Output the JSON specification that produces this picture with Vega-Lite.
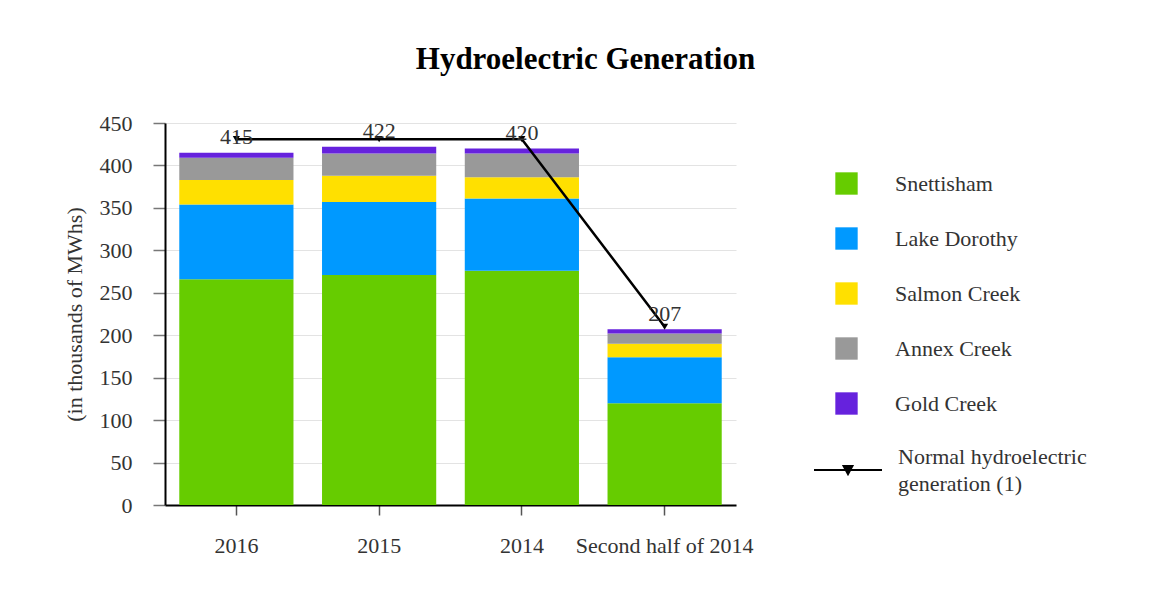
{
  "$schema": "https://vega.github.io/schema/vega-lite/v6.json",
  "width": 571,
  "height": 382,
  "autosize": {"type": "none"},
  "padding": {"left": 165, "top": 123, "right": 413, "bottom": 88},
  "background": "white",
  "title": {
    "text": "Hydroelectric Generation",
    "font": "Liberation Serif",
    "fontSize": 31,
    "fontWeight": "bold",
    "color": "black",
    "anchor": "middle",
    "frame": "group",
    "dx": 135,
    "baseline": "alphabetic",
    "offset": 12
  },
  "datasets": {
    "plants": [
      {"period": "2016", "plant": "Snettisham", "mwh": 266, "ord": 1},
      {"period": "2016", "plant": "Lake Dorothy", "mwh": 88, "ord": 2},
      {"period": "2016", "plant": "Salmon Creek", "mwh": 29, "ord": 3},
      {"period": "2016", "plant": "Annex Creek", "mwh": 26, "ord": 4},
      {"period": "2016", "plant": "Gold Creek", "mwh": 6, "ord": 5},
      {"period": "2015", "plant": "Snettisham", "mwh": 271, "ord": 1},
      {"period": "2015", "plant": "Lake Dorothy", "mwh": 86, "ord": 2},
      {"period": "2015", "plant": "Salmon Creek", "mwh": 31, "ord": 3},
      {"period": "2015", "plant": "Annex Creek", "mwh": 26, "ord": 4},
      {"period": "2015", "plant": "Gold Creek", "mwh": 8, "ord": 5},
      {"period": "2014", "plant": "Snettisham", "mwh": 276, "ord": 1},
      {"period": "2014", "plant": "Lake Dorothy", "mwh": 85, "ord": 2},
      {"period": "2014", "plant": "Salmon Creek", "mwh": 25, "ord": 3},
      {"period": "2014", "plant": "Annex Creek", "mwh": 28, "ord": 4},
      {"period": "2014", "plant": "Gold Creek", "mwh": 6, "ord": 5},
      {"period": "Second half of 2014", "plant": "Snettisham", "mwh": 120, "ord": 1},
      {"period": "Second half of 2014", "plant": "Lake Dorothy", "mwh": 54, "ord": 2},
      {"period": "Second half of 2014", "plant": "Salmon Creek", "mwh": 16, "ord": 3},
      {"period": "Second half of 2014", "plant": "Annex Creek", "mwh": 12, "ord": 4},
      {"period": "Second half of 2014", "plant": "Gold Creek", "mwh": 5, "ord": 5}
    ],
    "totals": [
      {"period": "2016", "total": 415, "normal": 431, "series": "Normal hydroelectric generation (1)"},
      {"period": "2015", "total": 422, "normal": 431, "series": "Normal hydroelectric generation (1)"},
      {"period": "2014", "total": 420, "normal": 431, "series": "Normal hydroelectric generation (1)"},
      {"period": "Second half of 2014", "total": 207, "normal": 210, "series": "Normal hydroelectric generation (1)"}
    ]
  },
  "encoding": {
    "x": {
      "field": "period",
      "type": "nominal",
      "sort": ["2016", "2015", "2014", "Second half of 2014"],
      "scale": {"paddingInner": 0.2, "paddingOuter": 0.1},
      "axis": {
        "title": null,
        "labelAngle": 0,
        "labelLimit": 400,
        "labelFont": "Liberation Serif",
        "labelFontSize": 22,
        "labelColor": "#333333",
        "labelPadding": 20,
        "tickSize": 10,
        "tickColor": "#555555",
        "tickWidth": 1.5,
        "domainColor": "black",
        "domainWidth": 2,
        "grid": false
      }
    }
  },
  "layer": [
    {
      "data": {"name": "plants"},
      "mark": {"type": "bar"},
      "encoding": {
        "y": {
          "field": "mwh",
          "type": "quantitative",
          "aggregate": "sum",
          "stack": "zero",
          "scale": {"domain": [0, 450], "nice": false},
          "axis": {
            "title": "(in thousands of MWhs)",
            "titleFont": "Liberation Serif",
            "titleFontSize": 22,
            "titleFontWeight": "normal",
            "titleColor": "#333333",
            "titlePadding": 13,
            "values": [0, 50, 100, 150, 200, 250, 300, 350, 400, 450],
            "labelFont": "Liberation Serif",
            "labelFontSize": 22,
            "labelColor": "#333333",
            "labelPadding": 21,
            "tickSize": 12,
            "tickColor": "#777777",
            "tickWidth": 1.5,
            "domainColor": "black",
            "domainWidth": 2,
            "grid": true,
            "gridColor": "#e3e3e3",
            "gridWidth": 1.2
          }
        },
        "color": {
          "field": "plant",
          "type": "nominal",
          "scale": {
            "domain": ["Snettisham", "Lake Dorothy", "Salmon Creek", "Annex Creek", "Gold Creek"],
            "range": ["#66cc00", "#0099ff", "#ffe000", "#999999", "#6622dd"]
          },
          "legend": {
            "title": null,
            "orient": "none",
            "legendX": 670,
            "legendY": 49,
            "padding": 0,
            "symbolType": "square",
            "symbolSize": 500,
            "symbolStrokeWidth": 0,
            "symbolOpacity": 1,
            "labelFont": "Liberation Serif",
            "labelFontSize": 22,
            "labelColor": "#333333",
            "labelOffset": 37,
            "labelLimit": 300,
            "rowPadding": 32
          }
        },
        "order": {"field": "ord", "type": "quantitative"}
      }
    },
    {
      "data": {"name": "totals"},
      "mark": {"type": "line", "strokeWidth": 2.5},
      "encoding": {
        "y": {"field": "normal", "type": "quantitative"},
        "stroke": {
          "field": "series",
          "type": "nominal",
          "scale": {"range": ["black"]},
          "legend": {
            "title": null,
            "orient": "none",
            "legendX": 648,
            "legendY": 312,
            "padding": 0,
            "symbolType": "M-1,0L1,0M-0.13,-0.12L0.13,-0.12L0,0.12Z",
            "symbolSize": 4624,
            "symbolStrokeWidth": 2,
            "labelFont": "Liberation Serif",
            "labelFontSize": 22,
            "labelColor": "#333333",
            "labelOffset": 15,
            "labelLimit": 300,
            "labelExpr": "['Normal hydroelectric', 'generation (1)']",
            "encode": {
              "symbols": {"update": {"fill": {"value": "black"}, "fillOpacity": {"value": 1}}},
              "labels": {"update": {"lineHeight": {"value": 27}, "dy": {"value": -13}}}
            }
          }
        }
      }
    },
    {
      "data": {"name": "totals"},
      "mark": {"type": "point", "shape": "triangle-down", "filled": true, "color": "black", "size": 50, "opacity": 1},
      "encoding": {
        "y": {"field": "normal", "type": "quantitative"}
      }
    },
    {
      "data": {"name": "totals"},
      "mark": {"type": "text", "font": "Liberation Serif", "fontSize": 22, "color": "#333333", "baseline": "alphabetic", "dy": -8.5},
      "encoding": {
        "y": {"field": "total", "type": "quantitative"},
        "text": {"field": "total", "type": "quantitative"}
      }
    }
  ],
  "config": {
    "view": {"stroke": null}
  }
}
